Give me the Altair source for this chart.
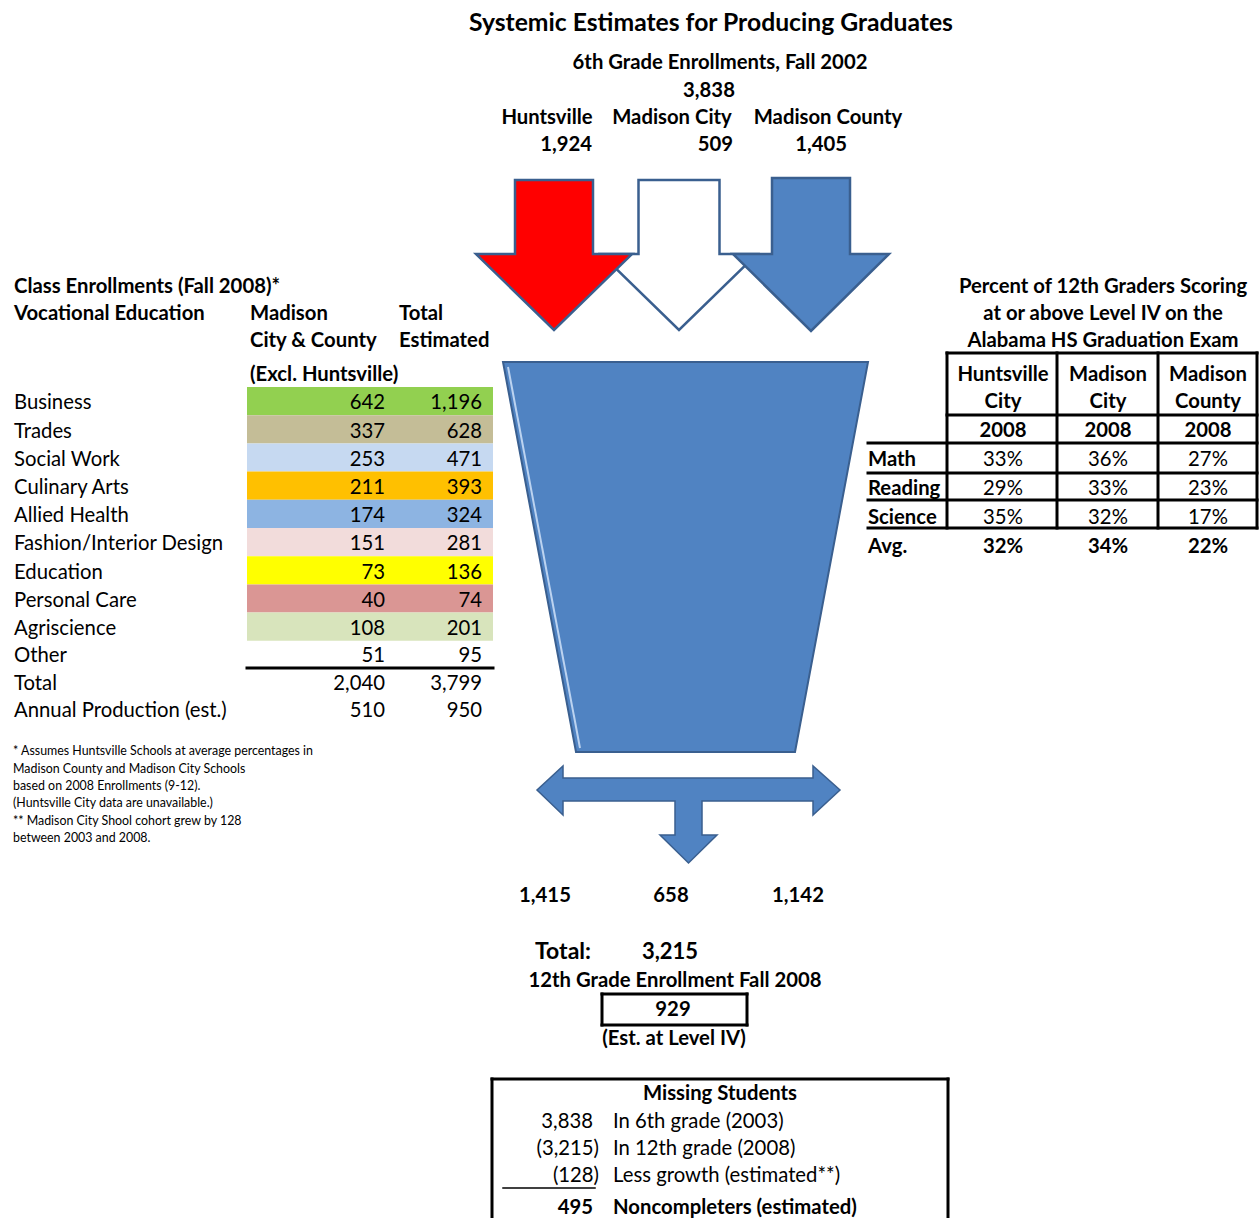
import altair as alt
import pandas as pd

FONT = "Lato"
W, H = 1259, 1218

# ---------------- data ----------------
chart_title = "Systemic Estimates for Producing Graduates"
districts = ["Huntsville", "Madison City", "Madison County"]
grade6_fall2002 = [1924, 509, 1405]
grade6_total = 3838
grade12_fall2008 = [1415, 658, 1142]
grade12_total = 3215
est_level4 = 929

voc_programs = ["Business", "Trades", "Social Work", "Culinary Arts", "Allied Health",
                "Fashion/Interior Design", "Education", "Personal Care", "Agriscience", "Other"]
voc_madison = [642, 337, 253, 211, 174, 151, 73, 40, 108, 51]
voc_total_est = [1196, 628, 471, 393, 324, 281, 136, 74, 201, 95]
voc_colors = ["#92D050", "#C4BD97", "#C6D9F1", "#FFC000", "#8DB4E2",
              "#F2DCDB", "#FFFF00", "#DA9694", "#D8E4BC", None]
voc_sum = [2040, 3799]
voc_annual = [510, 950]

exam_heads = [("Huntsville", "City"), ("Madison", "City"), ("Madison", "County")]
exam_year = "2008"
exam_subjects = ["Math", "Reading", "Science"]
exam_pct = [[33, 29, 35], [36, 33, 32], [27, 23, 17]]  # per district, per subject
exam_avg = [32, 34, 22]

missing_values = [3838, -3215, -128, 495]
missing_labels = ["In 6th grade (2003)", "In 12th grade (2008)",
                  "Less growth (estimated**)", "Noncompleters (estimated)"]

footnotes = ["* Assumes Huntsville Schools at average percentages in",
             "Madison County and Madison City Schools",
             "based on 2008 Enrollments (9-12).",
             "(Huntsville City data are unavailable.)",
             "** Madison City Shool cohort grew by 128",
             "between 2003 and 2008."]

# ---------------- scales ----------------
xs = alt.Scale(domain=[0, W], nice=False, zero=False)
ys = alt.Scale(domain=[0, H], reverse=True, nice=False, zero=False)
STROKE = "#3A5F8F"
BLUE = "#5083C2"

BS = 20.3   # bold text size
RS = 20.3   # regular text size
DY = 1.2    # small vertical nudge for all text

# ---------------- texts ----------------
texts = []


def T(x, y, s, size=BS, bold=False, align="left"):
    texts.append({"x": x, "y": y + DY, "text": s, "size": size, "bold": bold, "align": align})


T(711, 23, chart_title, 24.7, True, "center")
T(720, 62, "6th Grade Enrollments, Fall 2002", BS, True, "center")
T(709, 90, f"{grade6_total:,}", BS, True, "center")
for cx, name in zip([547, 672, 828], districts):
    T(cx, 117, name, BS, True, "center")
for rx, v in zip([592, 733, 847], grade6_fall2002):
    T(rx, 144, f"{v:,}", BS, True, "right")

# left table
T(14, 286, "Class Enrollments (Fall 2008)*", BS, True)
T(14, 313, "Vocational Education", BS, True)
T(250, 313, "Madison", BS, True)
T(250, 340, "City & County", BS, True)
T(250, 374, "(Excl. Huntsville)", BS, True)
T(399, 313, "Total", BS, True)
T(399, 340, "Estimated", BS, True)

band_top, band_h = 387, 28.2
rects = []
row_y = []
for i in range(len(voc_programs)):
    if i < 9:
        y0 = band_top + band_h * i
        yc = y0 + band_h / 2 + 1.0
    else:
        yc = 655
    row_y.append(yc)
    if voc_colors[i]:
        rects.append({"x": 247, "x2": 493, "y": y0, "y2": y0 + band_h, "fill": voc_colors[i]})
for i, name in enumerate(voc_programs):
    T(14, row_y[i], name, RS)
    T(385, row_y[i], f"{voc_madison[i]:,}", RS, False, "right")
    T(482, row_y[i], f"{voc_total_est[i]:,}", RS, False, "right")
T(14, 683, "Total", RS)
T(385, 683, f"{voc_sum[0]:,}", RS, False, "right")
T(482, 683, f"{voc_sum[1]:,}", RS, False, "right")
T(14, 710, "Annual Production (est.)", RS)
T(385, 710, f"{voc_annual[0]:,}", RS, False, "right")
T(482, 710, f"{voc_annual[1]:,}", RS, False, "right")

for i, line in enumerate(footnotes):
    T(13, 750 + 17.4 * i, line, 12.4)

# right table
T(1103, 286, "Percent of 12th Graders Scoring", BS, True, "center")
T(1103, 313, "at or above Level IV on the", BS, True, "center")
T(1103, 340, "Alabama HS Graduation Exam", BS, True, "center")
col_c = [1003, 1108, 1208]
for cx, (a, b) in zip(col_c, exam_heads):
    T(cx, 374, a, BS, True, "center")
    T(cx, 401, b, BS, True, "center")
    T(cx, 430, exam_year, BS, True, "center")
subj_y = [459, 488, 517]
for j, s in enumerate(exam_subjects):
    T(868, subj_y[j], s, BS, True)
    for k, cx in enumerate(col_c):
        T(cx, subj_y[j], f"{exam_pct[k][j]}%", RS, False, "center")
T(868, 546, "Avg.", BS, True)
for k, cx in enumerate(col_c):
    T(cx, 546, f"{exam_avg[k]}%", BS, True, "center")

# bottom
for cx, v in zip([545, 671, 798], grade12_fall2008):
    T(cx, 895, f"{v:,}", BS, True, "center")
T(563, 951, "Total:", 23, True, "center")
T(670, 951, f"{grade12_total:,}", 22, True, "center")
T(675, 980, "12th Grade Enrollment Fall 2008", BS, True, "center")
T(673, 1009, f"{est_level4:,}", BS, True, "center")
T(674, 1038, "(Est. at Level IV)", BS, True, "center")
T(720, 1093, "Missing Students", BS, True, "center")
miss_y = [1121, 1148, 1175, 1207]
for i, (v, lab) in enumerate(zip(missing_values, missing_labels)):
    bold = i == 3
    if v < 0:
        T(599, miss_y[i], f"({-v:,})", RS, bold, "right")
    else:
        T(593, miss_y[i], f"{v:,}", RS, bold, "right")
    T(613, miss_y[i], lab, RS, bold)

tdf = pd.DataFrame(texts)

# ---------------- lines ----------------
rules = []


def R(x, y, x2, y2, w=3, c="black"):
    rules.append({"x": x, "y": y, "x2": x2, "y2": y2, "w": w, "c": c})


R(247, 668, 493, 668, 3)
# right table grid
R(947, 353, 1257, 353)
R(947, 415, 1257, 415)
for yy in [443, 473, 500, 528]:
    R(868, yy, 1257, yy)
for xx in [947, 1057, 1158, 1257]:
    R(xx, 353, xx, 528)
# 929 box
R(602, 994, 747, 994)
R(602, 1025, 747, 1025)
R(602, 994, 602, 1025)
R(747, 994, 747, 1025)
# missing box
R(492, 1079, 948, 1079)
R(492, 1079, 492, 1220)
R(948, 1079, 948, 1220)
R(503, 1188, 595, 1188, 1.5)
rdf = pd.DataFrame(rules)


def X(f="x"):
    return alt.X(f"{f}:Q", scale=xs, axis=None)


def Y(f="y"):
    return alt.Y(f"{f}:Q", scale=ys, axis=None)


def poly(pts, fill, stroke=STROKE, sw=2.5):
    pts = list(pts) + [pts[0], pts[1]]
    df = pd.DataFrame([{"x": x, "y": y, "o": i} for i, (x, y) in enumerate(pts)])
    return alt.Chart(df).mark_line(fill=fill, stroke=stroke, strokeWidth=sw, strokeJoin="miter",
                                   interpolate="linear-closed").encode(
        x=X("x"), y=Y("y"), order="o:Q")


def down_arrow(cx, sw, hw, top, base, tip):
    return [(cx - sw, top), (cx + sw, top), (cx + sw, base), (cx + hw, base), (cx, tip),
            (cx - hw, base), (cx - sw, base)]


rect_layer = alt.Chart(pd.DataFrame(rects)).mark_rect().encode(
    x=X("x"), x2="x2:Q", y=Y("y"), y2="y2:Q", fill=alt.Fill("fill:N", scale=None))

rule_layer = alt.Chart(rdf).mark_rule(strokeCap="square").encode(
    x=X("x"), x2="x2:Q", y=Y("y"), y2="y2:Q",
    strokeWidth=alt.StrokeWidth("w:Q", scale=None), color=alt.Color("c:N", scale=None))

white_arrow = poly(down_arrow(679, 40.5, 78, 180, 254, 330), "white")
red_arrow = poly(down_arrow(554, 39, 78, 180, 254, 330), "#FF0000")
blue_arrow = poly(down_arrow(811, 39, 78, 178, 254, 331), BLUE)
funnel = poly([(503, 362), (868, 362), (795, 752), (576, 752)], BLUE, STROKE, 2)
highlight = alt.Chart(pd.DataFrame([{"x": 508, "y": 367, "x2": 580, "y2": 748}])).mark_rule(
    color="#BCD3F0", strokeWidth=2).encode(x=X("x"), x2="x2:Q", y=Y("y"), y2="y2:Q")

t_arrow = poly([(537, 790), (563, 766), (563, 778), (813, 778), (813, 766), (840, 790),
                (813, 815), (813, 801), (702, 801), (702, 835), (717, 835), (688.5, 863),
                (660, 835), (675, 835), (675, 801), (563, 801), (563, 815)], BLUE, STROKE, 1.5)

text_layers = []
for bold in [False, True]:
    for align in ["left", "center", "right"]:
        sub = tdf[(tdf["bold"] == bold) & (tdf["align"] == align)]
        if len(sub) == 0:
            continue
        text_layers.append(
            alt.Chart(sub).mark_text(align=align, baseline="middle", font=FONT,
                                     fontWeight="bold" if bold else "normal", color="black").encode(
                x=X("x"), y=Y("y"), text="text:N", size=alt.Size("size:Q", scale=None)))

chart = alt.layer(
    rect_layer, rule_layer, white_arrow, red_arrow, blue_arrow, funnel, highlight,
    t_arrow, *text_layers
).properties(
    width=W, height=H, autosize=alt.AutoSizeParams(type="none"), padding=0, background="white"
).configure_view(stroke=None)

chart.save("out.html", embed_options={"renderer": "svg", "actions": False})
